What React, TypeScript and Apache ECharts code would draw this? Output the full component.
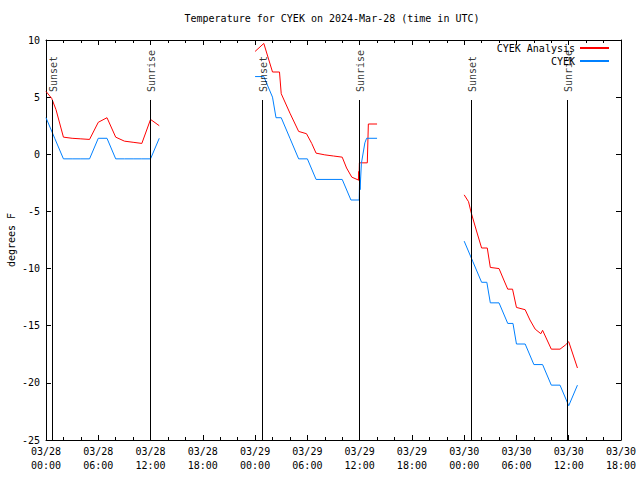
import React, { useEffect, useRef } from 'react';
import * as echarts from 'echarts';

// ---- text ----
const TITLE = 'Temperature for CYEK on 2024-Mar-28 (time in UTC)';
const Y_NAME = 'degrees F';
const SERIES_ANALYSIS = 'CYEK Analysis';
const SERIES_OBS = 'CYEK';
const MONTH = '03';
const START_DAY = 28; // x = hours since 03/28 00:00 UTC

// ---- axes ----
const X_MIN = 0;
const X_MAX = 66;
const X_STEP = 6;
const Y_MIN = -25;
const Y_MAX = 10;
const Y_STEP = 5;

// ---- CYEK Analysis (red), three segments ----
const anaTimes1 = [0, 0.65, 1.15, 2, 3, 4, 5, 6, 7, 8, 9, 10, 11, 12, 13];
const anaVals1 = [5.5, 4.9, 3.9, 1.5, 1.4, 1.35, 1.3, 2.8, 3.2, 1.5, 1.15, 1.05, 0.95, 3.05, 2.5];
const anaTimes2 = [24, 25, 26, 26.8, 27, 28, 29, 29.9, 30.5, 31, 32, 33, 34, 34.5, 35.1, 35.7, 35.85, 35.9, 35.93, 35.97, 36.88, 37, 38];
const anaVals2 = [9.0, 9.7, 7.2, 7.2, 5.3, 3.6, 2.0, 1.8, 0.95, 0.1, -0.05, -0.15, -0.25, -1.2, -2.0, -2.2, -2.25, -1.5, -2.3, -0.75, -0.75, 2.65, 2.65];
const anaTimes3 = [48, 48.5, 48.8, 49.45, 50, 50.65, 51, 52, 52.55, 53, 53.55, 54, 55, 55.55, 56.15, 56.8, 57, 58, 59, 59.6, 60, 61];
const anaVals3 = [-3.55, -4.15, -5.1, -6.8, -8.2, -8.2, -9.9, -10.0, -11.0, -11.8, -11.8, -13.4, -13.6, -14.5, -15.3, -15.7, -15.4, -17.05, -17.05, -16.7, -16.4, -18.7];

// ---- CYEK observations (blue), three segments ----
const obsTimes1 = [0, 1, 2, 3, 4, 5, 6, 7, 8, 9, 10, 11, 12, 13];
const obsVals1 = [3.2, 1.4, -0.4, -0.4, -0.4, -0.4, 1.4, 1.4, -0.4, -0.4, -0.4, -0.4, -0.4, 1.4];
const obsTimes2 = [24, 25, 26, 26.4, 27, 28, 29, 30, 31, 34, 35, 35.95, 36.0, 36.05, 36.2, 36.6, 36.8, 38];
const obsVals2 = [6.8, 6.8, 5.0, 3.2, 3.2, 1.4, -0.4, -0.4, -2.2, -2.2, -4.0, -4.0, -2.0, -3.1, -0.8, 1.0, 1.4, 1.4];
const obsTimes3 = [48, 49, 50, 50.6, 51, 52, 53, 53.6, 54, 55, 56, 57, 58, 59, 60, 61];
const obsVals3 = [-7.6, -9.4, -11.2, -11.2, -13.0, -13.0, -14.8, -14.8, -16.6, -16.6, -18.4, -18.4, -20.2, -20.2, -22.0, -20.2];

// ---- sun events (hours) ----
const sunsetTimes = [0.72, 24.83, 48.82];
const sunriseTimes = [11.97, 35.96, 59.84];

// ---- style constants ----
const FONT = 'DejaVu Sans Mono';
const RED = '#ff0000';
const BLUE = '#0080ff';
const SUN_LINE_TOP = 4.75; // data units where the sun lines stop
const SUN_LABEL_Y = 5.45;  // data units where sun labels start

function segmentsToData(segs: [number[], number[]][]) {
  const out: (number | null)[][] = [];
  segs.forEach(([ts, vs], i) => {
    if (i > 0) out.push([(ts[0] + (out[out.length - 1][0] as number)) / 2, null]);
    ts.forEach((t, j) => out.push([t, vs[j]]));
  });
  return out;
}

function xLabel(v: number) {
  const day = START_DAY + Math.floor(v / 24);
  const hh = v % 24;
  return `${MONTH}/${String(day).padStart(2, '0')}\n${String(hh).padStart(2, '0')}:00`;
}

export default function App() {
  const ref = useRef<HTMLDivElement>(null);
  useEffect(() => {
    if (!ref.current) return;
    const chart = echarts.init(ref.current, undefined, { renderer: 'svg' });
    const axisCommon = {
      axisLine: { show: true, onZero: false, lineStyle: { color: '#000', width: 1 } },
      splitLine: { show: false },
    };
    const tick = { show: true, inside: true, length: 5, lineStyle: { color: '#000' } };
    const minor = { show: true, splitNumber: 3, length: 3, lineStyle: { color: '#000' } };
    const sunSeries = (times: number[], text: string) => ({
      type: 'scatter',
      xAxisIndex: 0,
      yAxisIndex: 0,
      symbolSize: 0,
      silent: true,
      z: 5,
      data: times.map((t) => [t, SUN_LABEL_Y]),
      label: {
        show: true,
        formatter: text,
        position: 'inside',
        rotate: 90,
        align: 'left',
        verticalAlign: 'middle',
        offset: [0, 1],
        fontFamily: FONT,
        fontSize: 10,
        color: '#000',
      },
      markLine: {
        symbol: 'none',
        silent: true,
        label: { show: false },
        lineStyle: { color: '#000', width: 1, type: 'solid' },
        data: times.map((t) => [{ coord: [t, Y_MIN] }, { coord: [t, SUN_LINE_TOP] }]),
      },
    });
    chart.setOption({
      animation: false,
      backgroundColor: '#fff',
      title: {
        text: TITLE,
        left: 332,
        top: 13,
        textAlign: 'center',
        padding: 0,
        textStyle: { fontFamily: FONT, fontSize: 10, fontWeight: 'normal', color: '#000' },
      },
      legend: {
        data: [SERIES_ANALYSIS, SERIES_OBS],
        orient: 'vertical',
        right: 30,
        top: 42,
        align: 'right',
        itemWidth: 29,
        itemHeight: 10,
        itemGap: 1,
        padding: 0,
        itemStyle: { opacity: 0 },
        textStyle: { fontFamily: FONT, fontSize: 10, color: '#000', lineHeight: 12 },
      },
      grid: { left: 46, right: 19, top: 40, bottom: 40, containLabel: false, outerBoundsMode: 'none' },
      xAxis: [
        {
          type: 'value',
          min: X_MIN,
          max: X_MAX,
          interval: X_STEP,
          position: 'bottom',
          ...axisCommon,
          axisTick: tick,
          minorTick: minor,
          axisLabel: {
            formatter: xLabel,
            fontFamily: FONT,
            fontSize: 10,
            color: '#000',
            lineHeight: 14,
            margin: 4,
          },
        },
        {
          type: 'value',
          min: X_MIN,
          max: X_MAX,
          interval: X_STEP,
          position: 'top',
          ...axisCommon,
          axisTick: tick,
          minorTick: minor,
          axisLabel: { show: false },
        },
      ],
      yAxis: [
        {
          type: 'value',
          min: Y_MIN,
          max: Y_MAX,
          interval: Y_STEP,
          position: 'left',
          ...axisCommon,
          name: Y_NAME,
          nameLocation: 'middle',
          nameGap: 30,
          nameMoveOverlap: false,
          nameRotate: 90,
          nameTextStyle: { fontFamily: FONT, fontSize: 10, color: '#000' },
          axisTick: tick,
          axisLabel: { fontFamily: FONT, fontSize: 10, color: '#000', margin: 6 },
        },
        {
          type: 'value',
          min: Y_MIN,
          max: Y_MAX,
          interval: Y_STEP,
          position: 'right',
          ...axisCommon,
          axisTick: tick,
          axisLabel: { show: false },
        },
      ],
      series: [
        {
          name: SERIES_ANALYSIS,
          type: 'line',
          xAxisIndex: 0,
          yAxisIndex: 0,
          symbol: 'none',
          connectNulls: false,
          color: RED,
          lineStyle: { color: RED, width: 1 },
          emphasis: { disabled: true },
          data: segmentsToData([
            [anaTimes1, anaVals1],
            [anaTimes2, anaVals2],
            [anaTimes3, anaVals3],
          ]),
        },
        {
          name: SERIES_OBS,
          type: 'line',
          xAxisIndex: 0,
          yAxisIndex: 0,
          symbol: 'none',
          connectNulls: false,
          color: BLUE,
          lineStyle: { color: BLUE, width: 1 },
          emphasis: { disabled: true },
          data: segmentsToData([
            [obsTimes1, obsVals1],
            [obsTimes2, obsVals2],
            [obsTimes3, obsVals3],
          ]),
        },
        sunSeries(sunsetTimes, 'Sunset'),
        sunSeries(sunriseTimes, 'Sunrise'),
      ],
    });
    return () => chart.dispose();
  }, []);
  return (
    <div
      ref={ref}
      style={{ position: 'absolute', left: 0, top: 0, width: 640, height: 480 }}
    />
  );
}
